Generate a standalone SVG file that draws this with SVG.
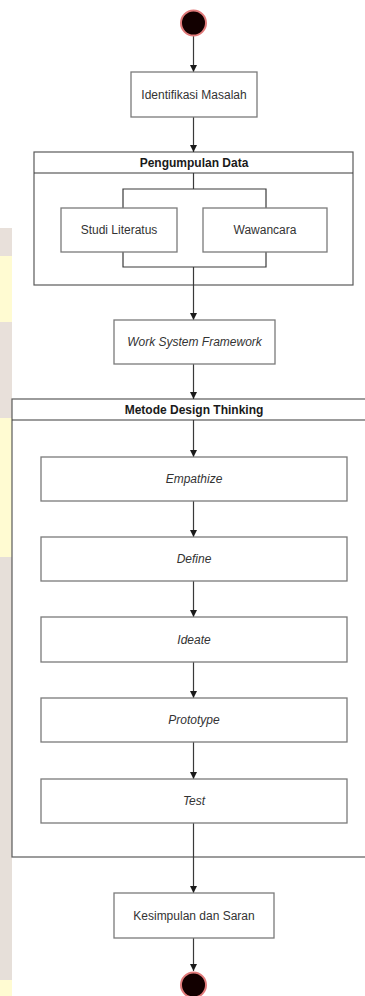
<svg xmlns="http://www.w3.org/2000/svg" width="365" height="996" viewBox="0 0 365 996">
  <style>
    .box { fill: #ffffff; stroke: #7a7a7a; stroke-width: 1.3; }
    .frame { fill: #ffffff; stroke: #5a5a5a; stroke-width: 1.2; }
    .edge { fill: none; stroke: #3a3a3a; stroke-width: 1.2; }
    .lbl { font-family: "Liberation Sans", Arial, sans-serif; font-size: 12px; fill: #333333; text-anchor: middle; dominant-baseline: central; }
    .it { font-style: italic; }
    .bold { font-weight: bold; fill: #1a1a1a; }
    .state { fill: #120000; stroke: #e07a7a; stroke-width: 2; }
  </style>
  <defs>
    <marker id="arrow" viewBox="0 0 8 8" markerWidth="7" markerHeight="7" refX="8" refY="4" orient="auto" markerUnits="userSpaceOnUse">
      <path d="M0,0 L8,4 L0,8 z" fill="#1a1a1a"/>
    </marker>
  </defs>

  <rect width="365" height="996" fill="#ffffff"/>

  <!-- page margin strip -->
  <g id="margin">
    <rect x="0" y="228" width="12" height="28" fill="#e8e0da"/>
    <rect x="0" y="256" width="12" height="66" fill="#fffbd2"/>
    <rect x="0" y="322" width="12" height="96" fill="#e8e0da"/>
    <rect x="0" y="418" width="12" height="139" fill="#fffbd2"/>
    <rect x="0" y="557" width="12" height="423" fill="#e6dfd9"/>
    <rect x="0" y="980" width="12" height="16" fill="#fffbd2"/>
  </g>

  <!-- containers -->
  <g id="pengumpulan-data">
    <rect class="frame" x="34" y="152" width="319" height="133"/>
    <line class="edge" x1="34" y1="173" x2="353" y2="173"/>
    <text class="lbl bold" x="194" y="163">Pengumpulan Data</text>
  </g>
  <g id="metode-design-thinking">
    <rect class="frame" x="12" y="399" width="370" height="458"/>
    <line class="edge" x1="12" y1="420" x2="382" y2="420"/>
    <text class="lbl bold" x="194" y="410">Metode Design Thinking</text>
  </g>

  <!-- connectors -->
  <g id="connectors">
    <line class="edge" x1="193.5" y1="36" x2="193.5" y2="72" marker-end="url(#arrow)"/>
    <line class="edge" x1="193.5" y1="117" x2="193.5" y2="152" marker-end="url(#arrow)"/>
    <!-- fork -->
    <polyline class="edge" points="193.5,173 193.5,189"/>
    <polyline class="edge" points="123,208 123,189 266,189 266,208"/>
    <!-- join -->
    <polyline class="edge" points="123,252 123,267 266,267 266,252"/>
    <line class="edge" x1="193.5" y1="267" x2="193.5" y2="320" marker-end="url(#arrow)"/>
    <line class="edge" x1="193.5" y1="364" x2="193.5" y2="399" marker-end="url(#arrow)"/>
    <line class="edge" x1="193.5" y1="420" x2="193.5" y2="457" marker-end="url(#arrow)"/>
    <line class="edge" x1="193.5" y1="501" x2="193.5" y2="537" marker-end="url(#arrow)"/>
    <line class="edge" x1="193.5" y1="581" x2="193.5" y2="617" marker-end="url(#arrow)"/>
    <line class="edge" x1="193.5" y1="662" x2="193.5" y2="698" marker-end="url(#arrow)"/>
    <line class="edge" x1="193.5" y1="742" x2="193.5" y2="779" marker-end="url(#arrow)"/>
    <line class="edge" x1="193.5" y1="823" x2="193.5" y2="893" marker-end="url(#arrow)"/>
    <line class="edge" x1="193.5" y1="938" x2="193.5" y2="971" marker-end="url(#arrow)"/>
  </g>

  <!-- nodes -->
  <g id="start">
    <circle class="state" cx="193.5" cy="23" r="12.5"/>
  </g>
  <g id="identifikasi-masalah">
    <rect class="box" x="131" y="72" width="126" height="45"/>
    <text class="lbl" x="194" y="95">Identifikasi Masalah</text>
  </g>
  <g id="studi-literatus">
    <rect class="box" x="61" y="208" width="116" height="44"/>
    <text class="lbl" x="119" y="230">Studi Literatus</text>
  </g>
  <g id="wawancara">
    <rect class="box" x="203" y="208" width="124" height="44"/>
    <text class="lbl" x="265" y="230">Wawancara</text>
  </g>
  <g id="work-system-framework">
    <rect class="box" x="114" y="320" width="161" height="44"/>
    <text class="lbl it" x="194.5" y="342">Work System Framework</text>
  </g>
  <g id="empathize">
    <rect class="box" x="41" y="457" width="306" height="44"/>
    <text class="lbl it" x="194" y="479">Empathize</text>
  </g>
  <g id="define">
    <rect class="box" x="41" y="537" width="306" height="44"/>
    <text class="lbl it" x="194" y="559">Define</text>
  </g>
  <g id="ideate">
    <rect class="box" x="41" y="617" width="306" height="45"/>
    <text class="lbl it" x="194" y="639.5">Ideate</text>
  </g>
  <g id="prototype">
    <rect class="box" x="41" y="698" width="306" height="44"/>
    <text class="lbl it" x="194" y="720">Prototype</text>
  </g>
  <g id="test">
    <rect class="box" x="41" y="779" width="306" height="44"/>
    <text class="lbl it" x="194" y="801">Test</text>
  </g>
  <g id="kesimpulan-dan-saran">
    <rect class="box" x="114" y="893" width="160" height="45"/>
    <text class="lbl" x="194" y="915.5">Kesimpulan dan Saran</text>
  </g>
  <g id="end">
    <circle class="state" cx="193.5" cy="985" r="12.5"/>
  </g>
</svg>
